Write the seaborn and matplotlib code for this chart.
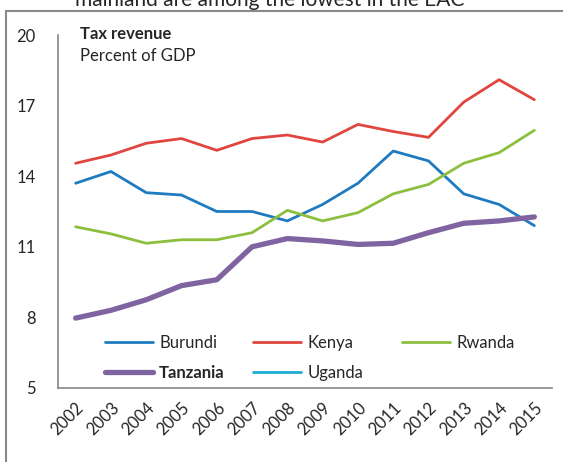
import numpy as np
import pandas as pd
import matplotlib
matplotlib.use("Agg")
import matplotlib.pyplot as plt
from matplotlib.lines import Line2D
from matplotlib.legend import Legend
from matplotlib.patches import Rectangle
from matplotlib.font_manager import FontProperties
import seaborn as sns

# Dane (procent PKB)
years = list(range(2002, 2016))
burundi = [13.7, 14.2, 13.3, 13.2, 12.5, 12.5, 12.1, 12.8, 13.7, 15.07, 14.65, 13.25, 12.8, 11.9]
kenya = [14.55, 14.9, 15.4, 15.6, 15.1, 15.6, 15.75, 15.45, 16.2, 15.9, 15.65, 17.15, 18.1, 17.25]
rwanda = [11.85, 11.55, 11.15, 11.3, 11.3, 11.6, 12.55, 12.1, 12.45, 13.25, 13.65, 14.55, 15.0, 15.95]
tanzania = [7.97, 8.3, 8.75, 9.35, 9.6, 11.0, 11.35, 11.25, 11.1, 11.15, 11.6, 12.0, 12.1, 12.27]
uganda = [np.nan] * len(years)  # brak danych na wykresie

countries = ["Burundi", "Kenya", "Rwanda", "Tanzania", "Uganda"]
series = [burundi, kenya, rwanda, tanzania, uganda]
colors = {"Burundi": "#1f7bc1", "Kenya": "#e0463f", "Rwanda": "#8dbf3f",
          "Tanzania": "#8064a2", "Uganda": "#1eacd3"}
widths = {"Burundi": 2.0, "Kenya": 2.0, "Rwanda": 2.0, "Tanzania": 3.8, "Uganda": 2.0}

df = pd.DataFrame({"Rok": np.tile(years, len(countries)),
                   "Kraj": np.repeat(countries, len(years)),
                   "Wartosc": np.concatenate(series)})

sns.set_style("white")
plt.rcParams["font.family"] = ["Lato", "DejaVu Sans"]

W, H = 563, 462
fig = plt.figure(figsize=(W / 100, H / 100), dpi=100)


def fx(px):
    return px / W


def fy(py):
    return 1 - py / H


ax = fig.add_axes([fx(58), fy(388), fx(552) - fx(58), fy(35) - fy(388)])

for kraj in countries:
    sub = df[(df["Kraj"] == kraj) & df["Wartosc"].notna()]
    if len(sub) == 0:
        continue
    sns.lineplot(data=sub, x="Rok", y="Wartosc", color=colors[kraj],
                 linewidth=widths[kraj], ax=ax, legend=False,
                 zorder=3 if kraj == "Tanzania" else 2)

ax.set_xlim(years[0] - 0.5, years[-1] + 0.5)
ax.set_ylim(5, 20)
ax.set_yticks([5, 8, 11, 14, 17, 20])
ax.set_xticks(years)
ax.set_xticklabels([str(y) for y in years], rotation=45, ha="right",
                   rotation_mode="anchor", fontsize=12)
ax.set_xticks(np.arange(years[0] - 0.5, years[-1] + 1, 1), minor=True)
ax.tick_params(axis="x", which="major", length=0, pad=8)
ax.tick_params(axis="x", which="minor", length=5, width=1, color="#868686", direction="out")
ax.tick_params(axis="y", length=5, width=1, color="#868686", direction="out", labelsize=12, pad=11)
ax.set_xlabel("")
ax.set_ylabel("")
for s in ["top", "right"]:
    ax.spines[s].set_visible(False)
for s in ["left", "bottom"]:
    ax.spines[s].set_color("#868686")
    ax.spines[s].set_linewidth(1.2)

# Legenda - trzy kolumny, każda jako osobna legenda
columns = [(["Burundi", "Tanzania"], 105), (["Kenya", "Uganda"], 253), (["Rwanda"], 402)]
for names, x0 in columns:
    handles = [Line2D([0], [0], color=colors[k], linewidth=widths[k]) for k in names]
    leg = Legend(ax, handles, names, frameon=False, prop=FontProperties(size=12),
                 loc="upper left",
                 bbox_to_anchor=(fx(x0), fy(335)), bbox_transform=fig.transFigure,
                 borderpad=0, borderaxespad=0, handlelength=2.9,
                 handletextpad=0.35, labelspacing=0.85)
    for t in leg.get_texts():
        if t.get_text() == "Tanzania":
            t.set_fontproperties(FontProperties(size=12, weight="bold"))
    ax.add_artist(leg)

# Tytuł
fig.text(fx(80), fy(39), "Tax revenue", fontsize=12, fontweight="bold", va="baseline")
fig.text(fx(80), fy(61), "Percent of GDP", fontsize=12, va="baseline")
fig.text(fx(270), fy(6), "mainland are among the lowest in the EAC", fontsize=15,
         ha="center", va="baseline")

# Ramka
fig.patches.append(Rectangle((fx(6), fy(H + 20)), fx(W + 20) - fx(6), fy(11) - fy(H + 20),
                             transform=fig.transFigure, fill=False,
                             edgecolor="#8a8a8a", linewidth=1.5))

fig.savefig("out.png", dpi=100)
